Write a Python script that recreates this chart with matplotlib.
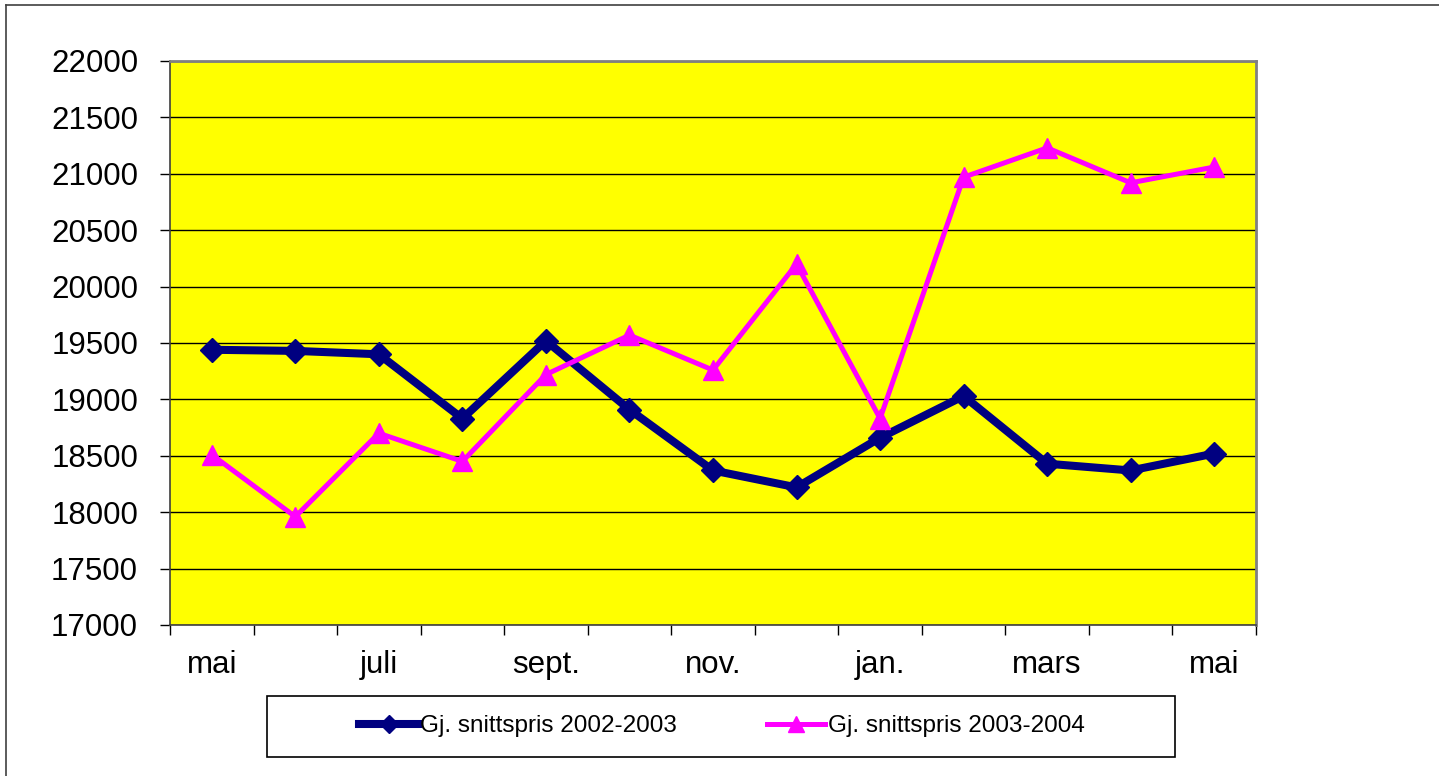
import numpy as np
import matplotlib.pyplot as plt
from matplotlib.lines import Line2D
from matplotlib.patches import Rectangle

plt.rcParams['font.family'] = ['Liberation Sans', 'DejaVu Sans']

# data
months = ["mai", "juni", "juli", "aug.", "sept.", "okt.", "nov.",
          "des.", "jan.", "feb.", "mars", "april", "mai"]
pris_2002_2003 = [19440, 19430, 19400, 18830, 19520, 18910, 18370,
                  18220, 18660, 19030, 18430, 18370, 18520]
pris_2003_2004 = [18510, 17960, 18700, 18450, 19220, 19570, 19260,
                  20200, 18830, 20970, 21230, 20920, 21060]
series_names = ["Gj. snittspris 2002-2003", "Gj. snittspris 2003-2004"]

fig = plt.figure(figsize=(14.39, 7.76), dpi=100)
ax = fig.add_axes([170/1439, 1 - 625/776, 1086/1439, 564/776])
ax.set_facecolor("#ffff00")

x = np.arange(len(months))
ax.plot(x, pris_2002_2003, color="#000080", lw=5.8, marker="D", ms=12,
        label=series_names[0], zorder=3)
ax.plot(x, pris_2003_2004, color="#ff00ff", lw=3.6, marker="^", ms=15,
        label=series_names[1], zorder=4)

ax.set_xlim(-0.5, len(months) - 0.5)
ax.set_ylim(17000, 22000)
ax.set_yticks(np.arange(17000, 22001, 500))
ax.yaxis.grid(True, color="black", lw=1)
ax.set_axisbelow(True)

# ticks between categories, labels on every other month
ax.set_xticks(np.arange(-0.5, len(months), 1))
ax.set_xticklabels([])
ax.set_xticks(x[::2], minor=True)
ax.set_xticklabels(months[::2], minor=True)
ax.tick_params(axis="x", which="major", length=7, width=1, color="black")
ax.tick_params(axis="x", which="minor", length=0, pad=18, labelsize=22.5)
ax.tick_params(axis="y", length=7, width=1, pad=16, labelsize=22.5)

for s in ["top", "right"]:
    ax.spines[s].set_color("#808080")
    ax.spines[s].set_linewidth(2)
for s in ["left", "bottom"]:
    ax.spines[s].set_color("#404040")
    ax.spines[s].set_linewidth(1.2)

# legend box
fig.patches.append(Rectangle((267/1439, 1 - 757/776), 908/1439, 61/776,
                             transform=fig.transFigure, fill=False,
                             edgecolor="black", lw=1.2))
fig.legend(loc="center", bbox_to_anchor=(722/1439, 1 - 726/776), ncol=2,
           frameon=False, fontsize=17.5, handlelength=2.4, handletextpad=0.1,
           columnspacing=3.7, markerscale=0.75)

# outer chart border (top and left visible)
fig.add_artist(Line2D([6/1439, 6/1439], [0, 1 - 5/776], color="#404040", lw=1.2))
fig.add_artist(Line2D([6/1439, 1], [1 - 5/776, 1 - 5/776], color="#404040", lw=1.2))

fig.savefig("out.png", dpi=100)
